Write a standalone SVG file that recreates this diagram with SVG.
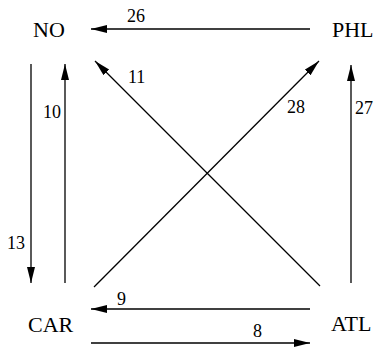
<svg xmlns="http://www.w3.org/2000/svg" width="374" height="347" viewBox="0 0 374 347">
<style>
.node{font-family:"Liberation Serif","Times New Roman",serif;font-size:22px;fill:#000}
.lbl{font-family:"Liberation Serif","Times New Roman",serif;font-size:18px;fill:#000}
.e{stroke:#000;stroke-width:1.3;fill:none}
</style>
<defs>
<marker id="ah" markerUnits="userSpaceOnUse" markerWidth="17" markerHeight="10" refX="16" refY="4" orient="auto" viewBox="0 0 17 10">
<path d="M0,0 L16,4 L0,8 z" fill="#000"/>
</marker>
</defs>
<rect width="374" height="347" fill="#fff"/>
<g id="connectors">
<line class="e" x1="310" y1="29" x2="91" y2="29" marker-end="url(#ah)"/>
<line class="e" x1="65" y1="283" x2="65" y2="64" marker-end="url(#ah)"/>
<line class="e" x1="31" y1="64" x2="31" y2="283" marker-end="url(#ah)"/>
<line class="e" x1="320" y1="286" x2="95" y2="61" marker-end="url(#ah)"/>
<line class="e" x1="94" y1="287" x2="319" y2="61" marker-end="url(#ah)"/>
<line class="e" x1="351" y1="283" x2="351" y2="65" marker-end="url(#ah)"/>
<line class="e" x1="310" y1="309" x2="91" y2="309" marker-end="url(#ah)"/>
<line class="e" x1="91" y1="343" x2="310" y2="343" marker-end="url(#ah)"/>
<text class="lbl" x="127" y="22">26</text>
<text class="lbl" x="43" y="118">10</text>
<text class="lbl" x="7" y="249">13</text>
<text class="lbl" x="128" y="83">11</text>
<text class="lbl" x="287" y="113">28</text>
<text class="lbl" x="355" y="114">27</text>
<text class="lbl" x="117" y="305">9</text>
<text class="lbl" x="253" y="337">8</text>
</g>
<g id="NO"><text class="node" x="33" y="37">NO</text></g>
<g id="PHL"><text class="node" x="332" y="37">PHL</text></g>
<g id="CAR"><text class="node" x="28" y="332">CAR</text></g>
<g id="ATL"><text class="node" x="331" y="331">ATL</text></g>
</svg>
